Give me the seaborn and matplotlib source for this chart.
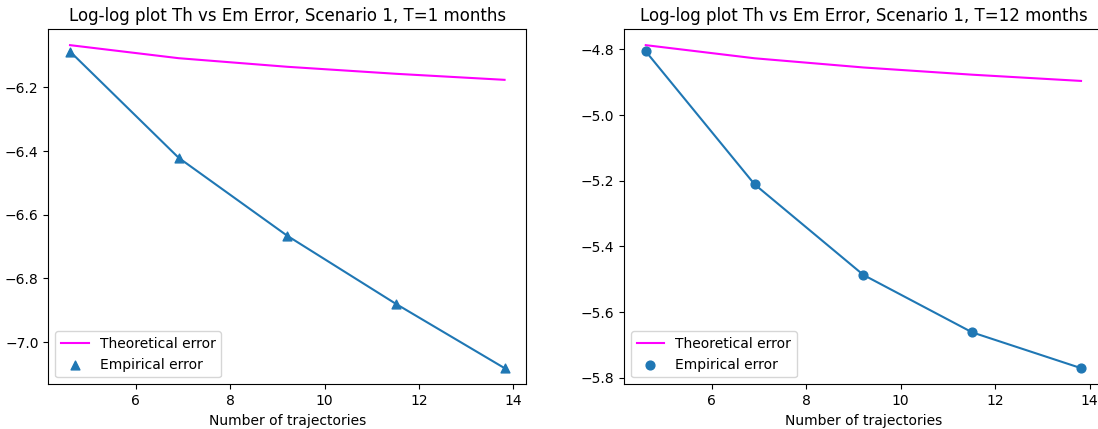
import matplotlib
matplotlib.use("Agg")
import matplotlib.pyplot as plt
import seaborn as sns

# log(number of trajectories)
log_n = [4.605, 6.908, 9.210, 11.513, 13.816]

# Scenario 1, T=1 month
theo_t1 = [-6.067, -6.108, -6.135, -6.157, -6.176]
emp_t1 = [-6.087, -6.421, -6.666, -6.880, -7.082]

# Scenario 1, T=12 months
theo_t12 = [-4.787, -4.827, -4.855, -4.877, -4.896]
emp_t12 = [-4.806, -5.211, -5.487, -5.662, -5.771]

titles = ["Log-log plot Th vs Em Error, Scenario 1, T=1 months",
          "Log-log plot Th vs Em Error, Scenario 1, T=12 months"]
xlabel = "Number of trajectories"
markers = ["^", "o"]

W, H = 1098, 429
fig = plt.figure(figsize=(W / 100, H / 100), dpi=100)
ax1 = fig.add_axes([48.3 / W, (H - 384.3) / H, 478 / W, 355.3 / H])
ax2 = fig.add_axes([624 / W, (H - 384.3) / H, 478.8 / W, 355.3 / H])

blue = "#1f77b4"
for ax, theo, emp, title, mk in [(ax1, theo_t1, emp_t1, titles[0], markers[0]),
                                 (ax2, theo_t12, emp_t12, titles[1], markers[1])]:
    sns.lineplot(x=log_n, y=theo, color="magenta", ax=ax, label="Theoretical error",
                 linewidth=1.5)
    sns.lineplot(x=log_n, y=emp, color=blue, ax=ax, legend=False, linewidth=1.5)
    sns.scatterplot(x=log_n, y=emp, color=blue, marker=mk, s=40, ax=ax,
                    edgecolor=blue, linewidth=1.0, label="Empirical error", zorder=3)
    ax.set_title(title, fontsize=12)
    ax.set_xlabel(xlabel)
    ax.set_ylabel("")
    ax.set_xticks([6, 8, 10, 12, 14])
    ax.legend(loc="lower left")

fig.savefig("out.png", dpi=100)
